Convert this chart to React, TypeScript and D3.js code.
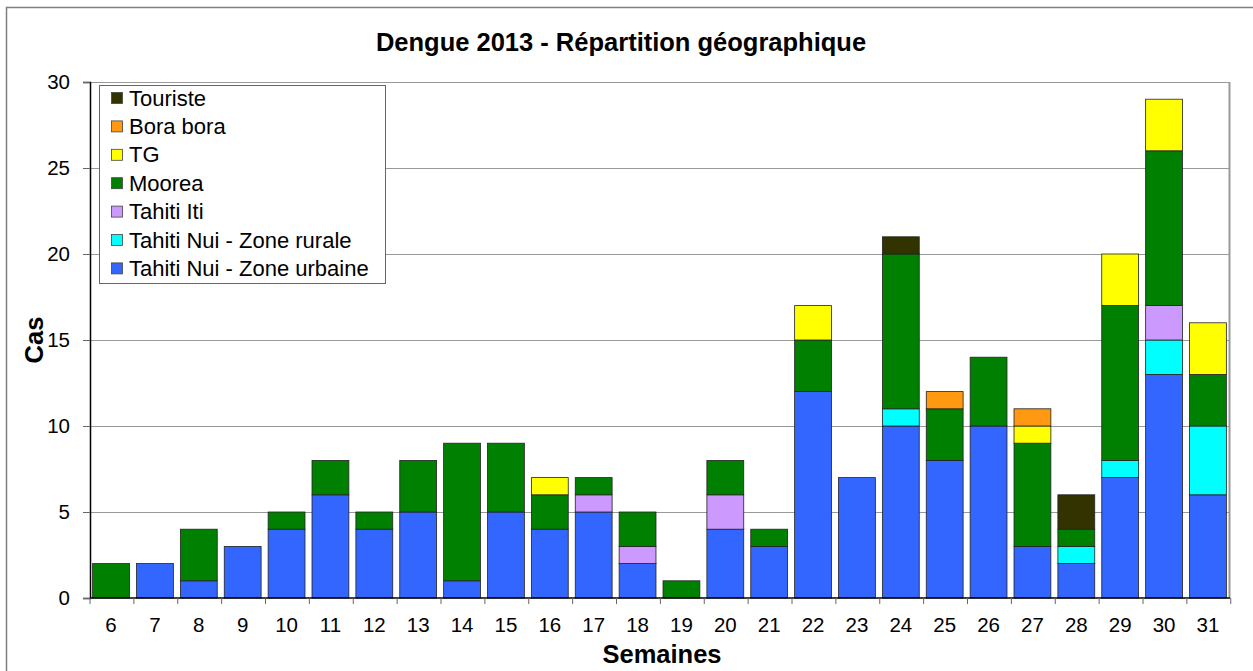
import { useEffect, useRef } from 'react';
import * as d3 from 'd3';

const weeks = ['6', '7', '8', '9', '10', '11', '12', '13', '14', '15', '16', '17', '18', '19', '20', '21', '22', '23', '24', '25', '26', '27', '28', '29', '30', '31'];

const urbaine = [0, 2, 1, 3, 4, 6, 4, 5, 1, 5, 4, 5, 2, 0, 4, 3, 12, 7, 10, 8, 10, 3, 2, 7, 13, 6];
const rurale = [0, 0, 0, 0, 0, 0, 0, 0, 0, 0, 0, 0, 0, 0, 0, 0, 0, 0, 1, 0, 0, 0, 1, 1, 2, 4];
const tahitiIti = [0, 0, 0, 0, 0, 0, 0, 0, 0, 0, 0, 1, 1, 0, 2, 0, 0, 0, 0, 0, 0, 0, 0, 0, 2, 0];
const moorea = [2, 0, 3, 0, 1, 2, 1, 3, 8, 4, 2, 1, 2, 1, 2, 1, 3, 0, 9, 3, 4, 6, 1, 9, 9, 3];
const tg = [0, 0, 0, 0, 0, 0, 0, 0, 0, 0, 1, 0, 0, 0, 0, 0, 2, 0, 0, 0, 0, 1, 0, 3, 3, 3];
const boraBora = [0, 0, 0, 0, 0, 0, 0, 0, 0, 0, 0, 0, 0, 0, 0, 0, 0, 0, 0, 1, 0, 1, 0, 0, 0, 0];
const touriste = [0, 0, 0, 0, 0, 0, 0, 0, 0, 0, 0, 0, 0, 0, 0, 0, 0, 0, 1, 0, 0, 0, 2, 0, 0, 0];

// stacking order, bottom to top
const seriesNames = ['Tahiti Nui - Zone urbaine', 'Tahiti Nui - Zone rurale', 'Tahiti Iti', 'Moorea', 'TG', 'Bora bora', 'Touriste'];
const seriesValues = [urbaine, rurale, tahitiIti, moorea, tg, boraBora, touriste];
const seriesColors = ['#3366FF', '#00FFFF', '#CC99FF', '#008000', '#FFFF00', '#FF9912', '#333300'];

const yTicks = [0, 5, 10, 15, 20, 25, 30];

export default function App() {
  const svgRef = useRef<SVGSVGElement>(null);

  useEffect(() => {
    if (!svgRef.current) return;
    const svg = d3.select(svgRef.current);
    svg.selectAll('*').remove();

    const W = 1253, H = 671;
    const left = 90, right = 1229, top = 82, bottom = 598;
    const font = 'Liberation Sans, Arial, sans-serif';

    // outer frame
    svg.append('rect').attr('x', 6.5).attr('y', 7.5).attr('width', W + 10).attr('height', H + 10)
      .attr('fill', 'white').attr('stroke', '#808080').attr('stroke-width', 1.5);

    const x = d3.scaleBand<string>().domain(weeks).range([left, right]).paddingInner(0.16).paddingOuter(0.06);
    const y = d3.scaleLinear().domain([0, 30]).range([bottom, top]);

    // gridlines
    svg.append('g').selectAll('line').data(yTicks.filter((t) => t > 0)).join('line')
      .attr('x1', left).attr('x2', right)
      .attr('y1', (d) => y(d) + 0.5).attr('y2', (d) => y(d) + 0.5)
      .attr('stroke', '#999').attr('stroke-width', 1.2);

    // plot right border
    svg.append('line').attr('x1', right + 0.5).attr('x2', right + 0.5).attr('y1', top).attr('y2', bottom)
      .attr('stroke', '#999').attr('stroke-width', 2);

    const table = weeks.map((w, i) => {
      const row: any = { week: w };
      seriesNames.forEach((n, j) => { row[n] = seriesValues[j][i]; });
      return row;
    });
    const stack = d3.stack<any>().keys(seriesNames)(table);

    stack.forEach((layer, j) => {
      svg.append('g').selectAll('rect').data(layer.filter((d) => d[1] - d[0] > 0)).join('rect')
        .attr('x', (d) => x(d.data.week)!)
        .attr('width', x.bandwidth())
        .attr('y', (d) => y(d[1]))
        .attr('height', (d) => y(d[0]) - y(d[1]))
        .attr('fill', seriesColors[j])
        .attr('stroke', '#222')
        .attr('stroke-width', 0.8);
    });

    // y axis
    const yAxis = svg.append('g').attr('transform', `translate(${left},0)`)
      .call(d3.axisLeft(y).tickValues(yTicks).tickSize(7).tickPadding(13));
    yAxis.select('.domain').attr('stroke', '#000').attr('stroke-width', 1.5);
    yAxis.selectAll('.tick line').attr('stroke', '#666');
    yAxis.selectAll('text').attr('font-size', 20.5).attr('font-family', font).attr('fill', '#000');

    // x axis
    const xAxis = svg.append('g').attr('transform', `translate(0,${bottom})`)
      .call(d3.axisBottom(x).tickSize(0).tickPadding(19));
    xAxis.select('.domain').remove();
    xAxis.selectAll('text').attr('font-size', 20.5).attr('font-family', font).attr('fill', '#000');
    svg.append('line').attr('x1', left).attr('x2', right + 1).attr('y1', bottom).attr('y2', bottom)
      .attr('stroke', '#000').attr('stroke-width', 1.5);
    const step = x.step();
    const bounds = d3.range(weeks.length + 1).map((i) => left + i * step);
    svg.append('g').selectAll('line').data(bounds).join('line')
      .attr('x1', (d) => d).attr('x2', (d) => d)
      .attr('y1', bottom).attr('y2', bottom + 6)
      .attr('stroke', '#666');

    // titles
    svg.append('text').attr('x', 621).attr('y', 51).attr('text-anchor', 'middle')
      .attr('font-family', font).attr('font-size', 25.5).attr('font-weight', 'bold')
      .text('Dengue 2013 - Répartition géographique');
    svg.append('text').attr('x', 662).attr('y', 663).attr('text-anchor', 'middle')
      .attr('font-family', font).attr('font-size', 25.5).attr('font-weight', 'bold')
      .text('Semaines');
    svg.append('text').attr('transform', 'translate(43,340) rotate(-90)').attr('text-anchor', 'middle')
      .attr('font-family', font).attr('font-size', 25.5).attr('font-weight', 'bold')
      .text('Cas');

    // legend
    const lg = svg.append('g');
    lg.append('rect').attr('x', 99.5).attr('y', 85.5).attr('width', 286).attr('height', 198)
      .attr('fill', 'white').attr('stroke', '#666').attr('stroke-width', 1);
    const order = d3.range(seriesNames.length).reverse();
    order.forEach((j, k) => {
      const cy = 98 + k * 28.4;
      lg.append('rect').attr('x', 111.5).attr('y', cy - 5.5).attr('width', 11).attr('height', 11)
        .attr('fill', seriesColors[j]).attr('stroke', '#444').attr('stroke-width', 0.8);
      lg.append('text').attr('x', 129).attr('y', cy + 7.5)
        .attr('font-family', font).attr('font-size', 22).attr('fill', '#000')
        .text(seriesNames[j]);
    });
  }, []);

  return <svg ref={svgRef} width={1253} height={671} style={{ display: 'block', position: 'absolute', left: 0, top: 0 }} />;
}
